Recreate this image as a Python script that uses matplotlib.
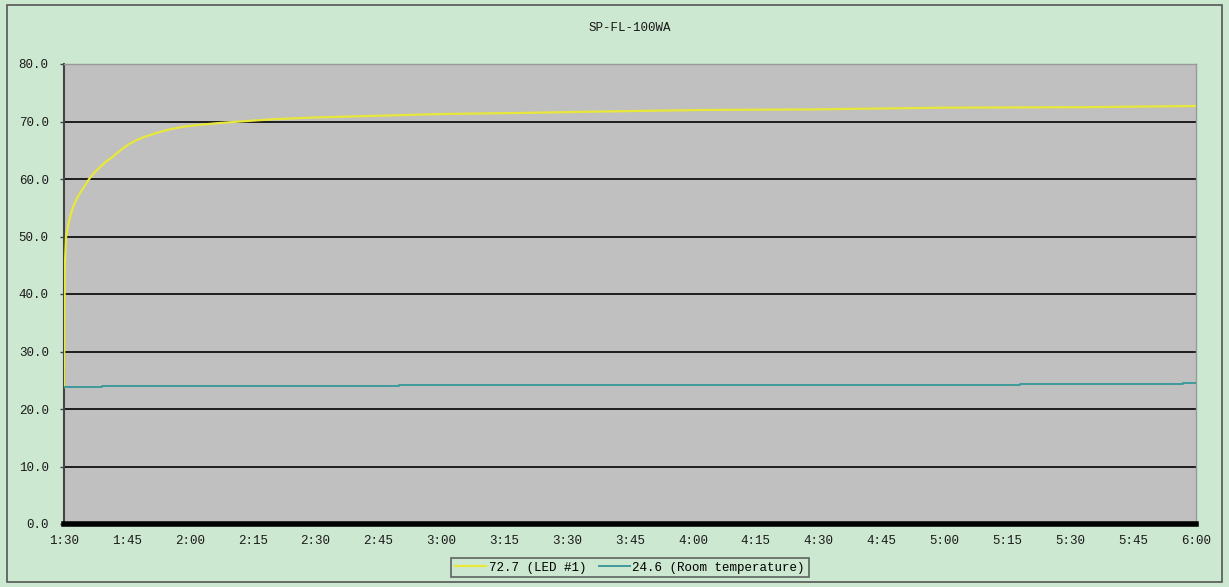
import matplotlib
matplotlib.use("Agg")
import matplotlib.pyplot as plt
from matplotlib.patches import Rectangle

# ---- data ----
title = "SP-FL-100WA"
tick_labels = ["1:30", "1:45", "2:00", "2:15", "2:30", "2:45", "3:00", "3:15", "3:30",
               "3:45", "4:00", "4:15", "4:30", "4:45", "5:00", "5:15", "5:30", "5:45", "6:00"]
y_ticks = [0, 10, 20, 30, 40, 50, 60, 70, 80]

led_minutes = [0, 0.2, 0.5, 1, 1.6, 2.2, 3.2, 4.3, 5.2, 6, 7.2, 8.5, 10, 11.7, 12.8, 14, 15.6,
               17.4, 19.5, 22, 25, 28.5, 32, 36.5, 42, 50, 60, 75, 90, 110, 125, 152, 178,
               210, 245, 270]
led_values = [23.8, 45, 50, 52, 53.8, 55.2, 56.8, 58.1, 59.1, 60, 61.1, 62, 63, 63.9, 64.6,
              65.3, 66.1, 66.8, 67.4, 68.0, 68.6, 69.1, 69.4, 69.7, 70.0, 70.4, 70.7, 71.0,
              71.3, 71.5, 71.7, 72.0, 72.1, 72.4, 72.5, 72.7]

room_minutes = [0, 9, 80, 228, 267, 270]
room_values = [23.8, 24.0, 24.1, 24.3, 24.6, 24.6]

led_label = "72.7 (LED #1)"
room_label = "24.6 (Room temperature)"

# ---- styling ----
W, H = 1229, 587
fig = plt.figure(figsize=(W / 100, H / 100), dpi=100)
bg = "#CDE8D0"
fig.patch.set_facecolor(bg)
fig.patches.append(Rectangle((7 / W, 5 / H), (1222 - 7) / W, (582 - 5) / H,
                             transform=fig.transFigure, fill=False,
                             edgecolor="#555555", linewidth=1.2))

font = ["Liberation Mono", "DejaVu Sans Mono"]
fs = 9
ax = fig.add_axes([64 / W, (587 - 524) / H, (1196 - 64) / W, (524 - 64) / H])
ax.set_facecolor("#C0C0C0")

ax.plot(led_minutes, led_values, color="#E8E83A", linewidth=1.6, label=led_label, zorder=3)
ax.plot(room_minutes, room_values, color="#3F9A9A", linewidth=1.4, drawstyle="steps-post",
        label=room_label, zorder=3)

ax.set_xlim(0, 270)
ax.set_ylim(0, 80)
ax.set_xticks([15 * i for i in range(len(tick_labels))])
ax.set_xticklabels(tick_labels, fontfamily=font, fontsize=fs, color="#1a1a1a")
ax.set_yticks(y_ticks)
ax.set_yticklabels([f"{v:.1f}" for v in y_ticks], fontfamily=font, fontsize=fs, color="#1a1a1a")
ax.tick_params(axis="x", length=0, pad=8)
ax.tick_params(axis="y", length=3, width=1, color="#444444", pad=8)

for v in y_ticks[1:-1]:
    ax.axhline(v, color="#111111", linewidth=1.3, zorder=2)

for s in ["top", "right"]:
    ax.spines[s].set_color("#999999")
    ax.spines[s].set_linewidth(1)
ax.spines["left"].set_color("#444444")
ax.spines["left"].set_linewidth(1.5)
ax.spines["bottom"].set_color("#000000")
ax.spines["bottom"].set_linewidth(4)

fig.text(630 / W, 1 - 28 / H, title, ha="center", va="center",
         fontfamily=font, fontsize=fs, color="#1a1a1a")

leg = fig.legend(loc="center", bbox_to_anchor=(630 / W, 1 - 567.5 / H), ncol=2,
                 prop={"family": font, "size": fs}, handlelength=2.5, handletextpad=0.2,
                 columnspacing=1.0, frameon=True, fancybox=False, borderpad=0.3)
leg.get_frame().set_facecolor(bg)
leg.get_frame().set_edgecolor("#444444")
leg.get_frame().set_linewidth(1.2)

fig.savefig("out.png", dpi=100, facecolor=fig.get_facecolor())
